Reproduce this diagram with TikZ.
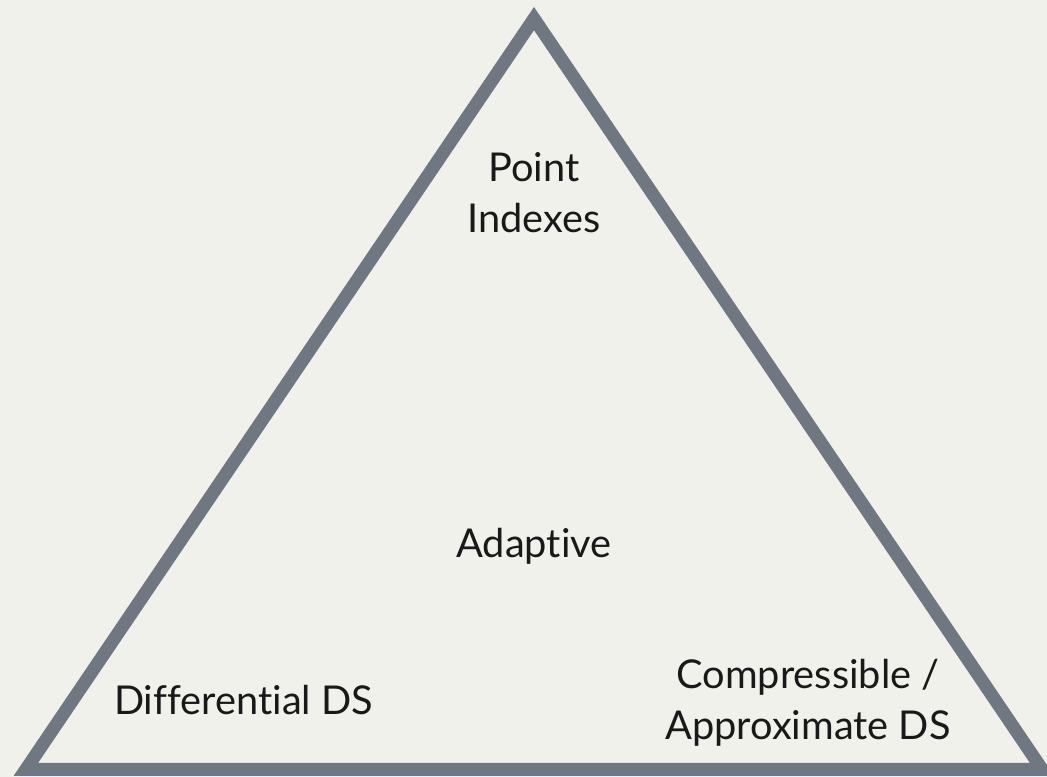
\documentclass[tikz,border=0pt]{standalone}
\usepackage{fontspec}
\setmainfont{Lato}[Ligatures=NoCommon]
\usepackage{xcolor}
\usepackage{tikz}
\usetikzlibrary{positioning}
\definecolor{paper}{HTML}{F0F1EB}
\definecolor{edgegray}{HTML}{6F7881}

\tikzset{
    corner/.style={font=\fontsize{11.3}{14.6}\selectfont, text=black!90, inner sep=0pt, anchor=base, align=center}
}

\begin{document}
\begin{tikzpicture}[x=0.01cm, y=-0.01cm]
    \fill[paper] (0,0) rectangle (1047,777);
    \useasboundingbox (0,0) rectangle (1047,777);
    \coordinate (top) at (534,18.6);
    \coordinate (left) at (25.8,769.5);
    \coordinate (right) at (1042.2,769.5);
    \draw[edgegray, line width=0.13cm, line join=miter] (left) -- (top) -- (right) -- cycle;
    % base of a two-line node sits on its last line
    \node[corner] (point) at (534,233) {Point\\Indexes};
    \node[corner] (adaptive) at (534,558) {Adaptive};
    \node[corner] (diff) at (243.5,715) {Differential DS};
    \node[corner] (approx) at (808,740) {Compressible /\\Approximate DS};
\end{tikzpicture}
\end{document}
